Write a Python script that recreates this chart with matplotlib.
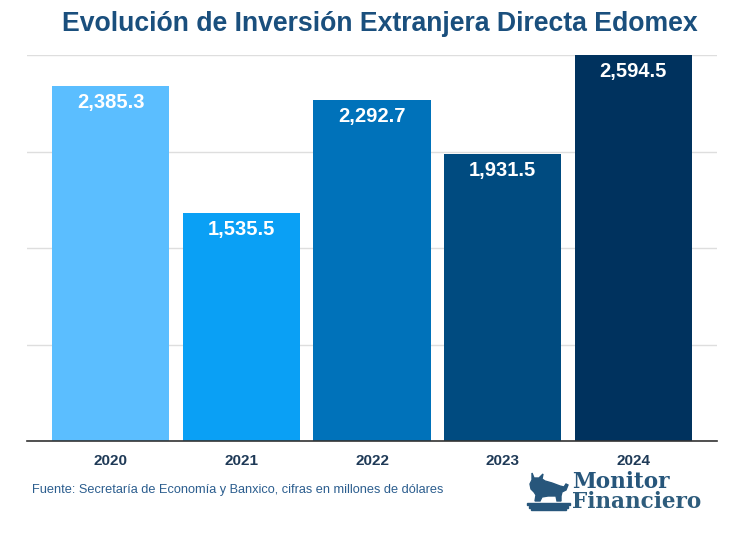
import matplotlib
matplotlib.use("Agg")
import matplotlib.pyplot as plt
from matplotlib.patches import Polygon, Rectangle
import numpy as np

years = ["2020", "2021", "2022", "2023", "2024"]
values = [2385.3, 1535.5, 2292.7, 1931.5, 2594.5]
labels = ["2,385.3", "1,535.5", "2,292.7", "1,931.5", "2,594.5"]
colors = ["#5BBEFF", "#0AA0F5", "#0072BA", "#004B80", "#00325E"]

plt.rcParams['font.family'] = ['Liberation Sans', 'DejaVu Sans']

W, H = 750, 536
fig = plt.figure(figsize=(7.5, 5.36), dpi=100)
ax = fig.add_axes([0.036, 0.177, 0.92, 0.72])

x = np.arange(len(years))
ax.bar(x, values, width=0.9, color=colors, zorder=3)
ymax = max(values)
ax.set_ylim(0, ymax)
ax.set_xlim(-0.64, 4.64)
ax.set_yticks(np.linspace(0, ymax, 5))
ax.yaxis.grid(True, color="#DEDEDE", linewidth=1, zorder=0)
ax.tick_params(axis='y', left=False, labelleft=False)
ax.tick_params(axis='x', bottom=False, pad=6)
ax.set_xticks(x)
ax.set_xticklabels(years, fontsize=11, fontweight='bold', color="#1F3A57")
for s in ['top', 'right', 'left']:
    ax.spines[s].set_visible(False)
ax.spines['bottom'].set_color("#333333")
ax.spines['bottom'].set_linewidth(1.2)
ax.spines['bottom'].set_zorder(4)

for xi, v, lab in zip(x, values, labels):
    ax.annotate(lab, (xi, v), xytext=(0, -5), textcoords='offset points',
                ha='center', va='top', color='white', fontsize=14.5,
                fontweight='bold', zorder=5)

fig.text(0.506, 0.955, "Evolución de Inversión Extranjera Directa Edomex",
         ha='center', va='center', fontsize=19.2, fontweight='bold',
         color="#1A4F7D")

fig.text(0.043, 0.086, "Fuente: Secretaría de Economía y Banxico, cifras en millones de dólares",
         ha='left', va='center', fontsize=9.2, color="#2B5D8E")

# logo
logo_color = "#27567B"
fig.text(572 / W, 1 - 482 / H, "Monitor", ha='left', va='center', fontsize=15.5,
         fontweight='bold', family=['DejaVu Serif'], color=logo_color)
fig.text(572 / W, 1 - 502 / H, "Financiero", ha='left', va='center', fontsize=15.5,
         fontweight='bold', family=['DejaVu Serif'], color="#2E5C7C")

lax = fig.add_axes([520 / W, 1 - 515 / H, 60 / W, 50 / H])
lax.set_xlim(0, 60)
lax.set_ylim(50, 0)
lax.axis('off')
bull = [(12, 8), (14, 13), (19, 13), (23, 9), (22, 14), (25, 16), (32, 18), (40, 21),
        (44, 22), (46, 19), (48, 20), (46, 25), (42, 27), (41, 31), (41, 36), (37, 36),
        (36, 31), (28, 31), (22, 32), (20, 36), (15, 36), (16, 30), (14, 27), (11, 24),
        (10, 19), (12, 15)]
lax.add_patch(Polygon(bull, closed=True, color=logo_color))
lax.add_patch(Rectangle((7, 37.5), 43, 2.2, color=logo_color))
lax.add_patch(Rectangle((9, 40.5), 39, 2.0, color=logo_color))
lax.add_patch(Rectangle((11, 43.3), 35, 1.7, color=logo_color))

fig.savefig("out.png", dpi=100)
